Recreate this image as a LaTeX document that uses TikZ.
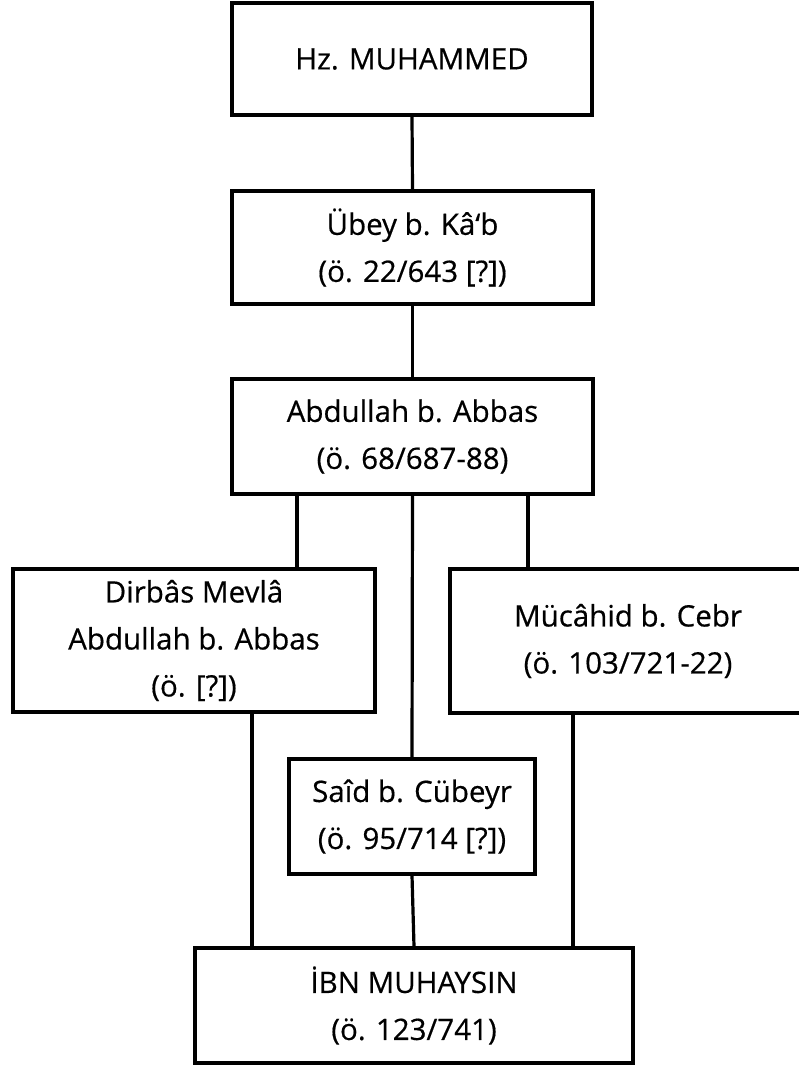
\documentclass[tikz,border=0pt]{standalone}
\usepackage{fontspec}
\setmainfont{Open Sans}
\newfontfamily\boxfont{Open Sans}[FakeBold=0.5]
\begin{document}
\begin{tikzpicture}[x=1pt,y=1pt,
  box/.style={draw=black, line width=3.2pt, align=center, inner sep=0pt,
    font=\boxfont\fontsize{29.5}{47}\selectfont},
  link/.style={draw=black, line width=3.2pt}]
\clip (0,0) rectangle (799,-1065);
\fill[white] (0,0) rectangle (799,-1065);
\node[box, minimum width=360, minimum height=112] (b1) at (412,-59) {Hz. MUHAMMED};
\node[box, minimum width=361, minimum height=113] (b2) at (412.5,-247.5) {Übey b. Kâ‘b\\(ö. 22/643 [?])};
\node[box, minimum width=361, minimum height=115] (b3) at (412.5,-436.5) {Abdullah b. Abbas\\(ö. 68/687-88)};
\node[box, minimum width=362, minimum height=143] (b4) at (194,-640.5) {Dirbâs Mevlâ\\Abdullah b. Abbas\\(ö. [?])};
\node[box, minimum width=356, minimum height=144] (b5) at (628,-641) {Mücâhid b. Cebr\\(ö. 103/721-22)};
\node[box, minimum width=246, minimum height=115] (b6) at (412,-816.5) {Saîd b. Cübeyr\\(ö. 95/714 [?])};
\node[box, minimum width=438, minimum height=115] (b7) at (414,-1005.5) {İBN MUHAYSIN\\(ö. 123/741)};
\draw[link] (b1.south) -- (b2.north);
\draw[link] (b2.south) -- (b3.north);
\draw[link] ([xshift=-115.5pt]b3.south) -- ([xshift=-115.5pt]b3.south |- b4.north);
\draw[link] ([xshift=115.5pt]b3.south) -- ([xshift=115.5pt]b3.south |- b5.north);
\draw[link] (b3.south) -- (b6.north);
\draw[link] (b6.south) -- (b7.north);
\draw[link] ([xshift=-162pt]b7.north) -- ([xshift=-162pt]b7.north |- b4.south);
\draw[link] ([xshift=159pt]b7.north) -- ([xshift=159pt]b7.north |- b5.south);
\end{tikzpicture}
\end{document}
